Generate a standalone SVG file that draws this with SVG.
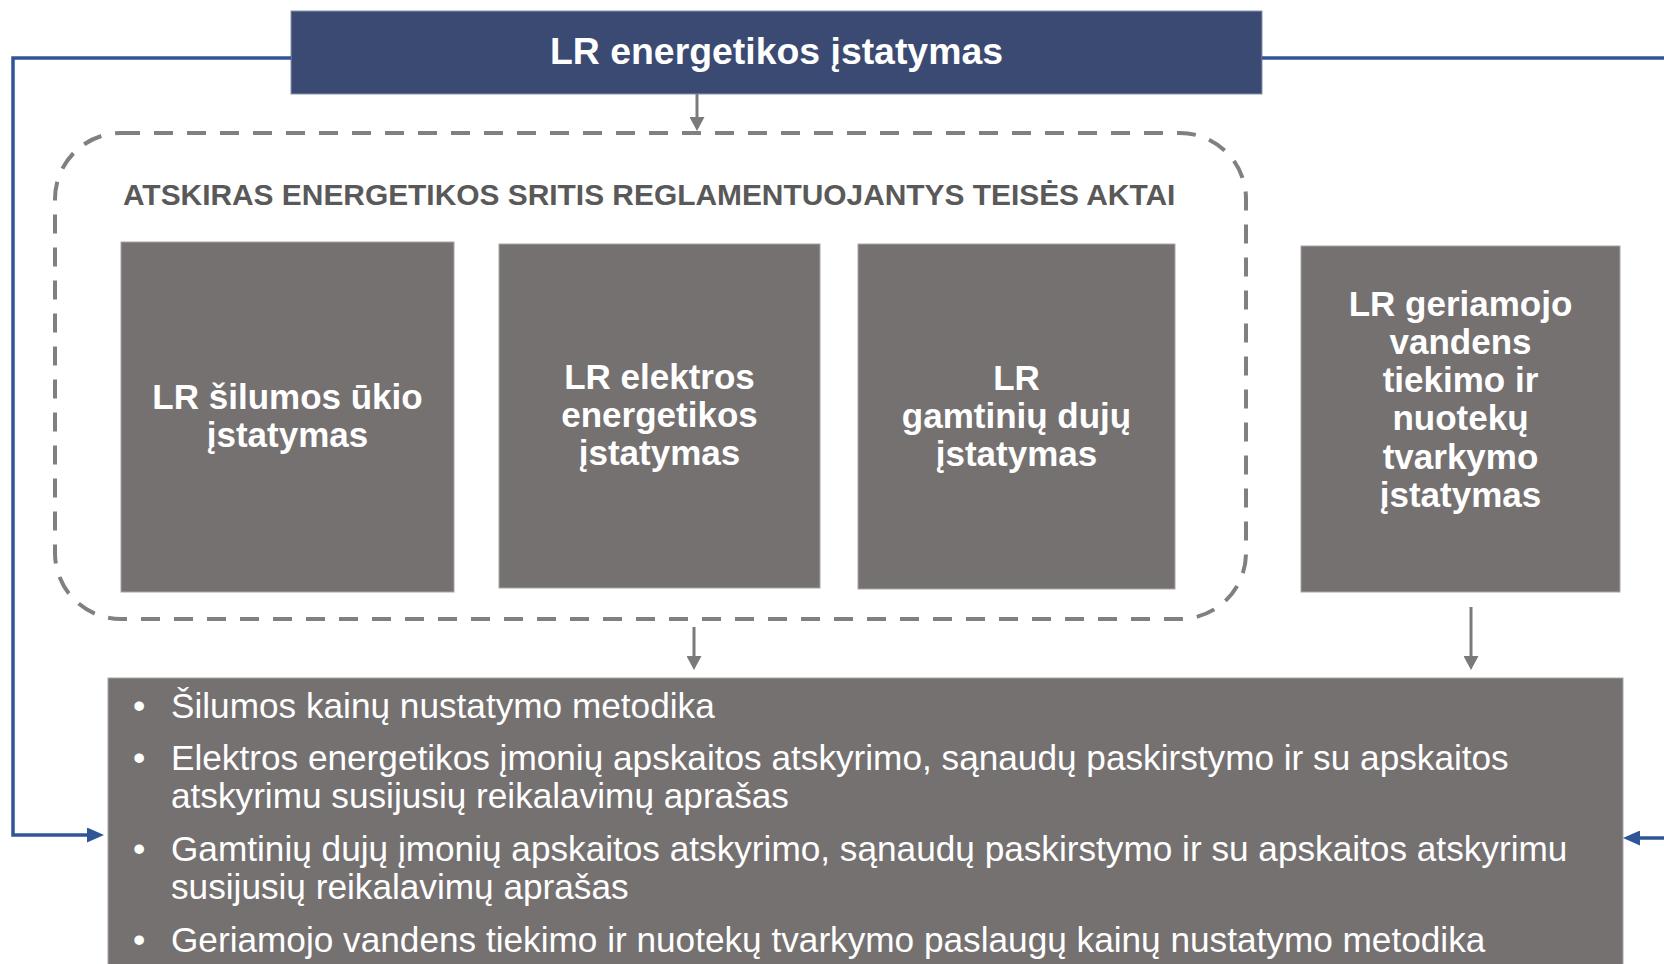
<svg xmlns="http://www.w3.org/2000/svg" width="1664" height="964" viewBox="0 0 1664 964">
<style>
.box{fill:#767171;stroke:#a8a6a6;stroke-width:1}
.bt{font-family:"Liberation Sans",Arial,sans-serif;font-weight:bold;font-size:35px;fill:#ffffff;text-anchor:middle}
.lt{font-family:"Liberation Sans",Arial,sans-serif;font-size:35.2px;fill:#ffffff}
.blue{fill:none;stroke:#2F5597;stroke-width:3.5;stroke-linejoin:miter}
.gray{fill:none;stroke:#7a7a7a;stroke-width:3}
</style>
<defs>
<marker id="ag" viewBox="0 0 14 15" refX="9" refY="7.5" markerWidth="14" markerHeight="15" markerUnits="userSpaceOnUse" orient="auto">
<path d="M0,0 L14,7.5 L0,15 z" fill="#7a7a7a"/>
</marker>
<marker id="ab" viewBox="0 0 17 15" refX="12" refY="7.5" markerWidth="17" markerHeight="15" markerUnits="userSpaceOnUse" orient="auto">
<path d="M0,0 L17,7.5 L0,15 z" fill="#2F5597"/>
</marker>
</defs>
<rect width="1664" height="964" fill="#ffffff"/>

<g id="group-atskiras">
<rect x="55" y="133" width="1191" height="486" rx="66" ry="66" fill="none" stroke="#808080" stroke-width="4" stroke-dasharray="19 14"/>
<text x="123" y="204.5" font-family="Liberation Sans, Arial, sans-serif" font-weight="bold" font-size="29.9" fill="#595959">ATSKIRAS ENERGETIKOS SRITIS REGLAMENTUOJANTYS TEISĖS AKTAI</text>
</g>

<g id="node-energetikos">
<rect x="291" y="11" width="971" height="83" fill="#3B4A72" stroke="#8a93ad" stroke-width="1"/>
<text x="776.5" y="64.3" font-family="Liberation Sans, Arial, sans-serif" font-weight="bold" font-size="37.4" fill="#ffffff" text-anchor="middle">LR energetikos įstatymas</text>
</g>

<g id="node-silumos">
<rect class="box" x="121" y="242" width="333" height="350"/>
<text class="bt"><tspan x="287.5" y="408.5">LR šilumos ūkio</tspan><tspan x="287.5" y="446.5">įstatymas</tspan></text>
</g>

<g id="node-elektros">
<rect class="box" x="499" y="244" width="321" height="344"/>
<text class="bt"><tspan x="659.5" y="389">LR elektros</tspan><tspan x="659.5" y="427">energetikos</tspan><tspan x="659.5" y="465">įstatymas</tspan></text>
</g>

<g id="node-dujos">
<rect class="box" x="858" y="244" width="317" height="345"/>
<text class="bt"><tspan x="1016.5" y="390">LR</tspan><tspan x="1016.5" y="428">gamtinių dujų</tspan><tspan x="1016.5" y="466">įstatymas</tspan></text>
</g>

<g id="node-vanduo">
<rect class="box" x="1301" y="246" width="319" height="346"/>
<text class="bt"><tspan x="1460.5" y="315.7">LR geriamojo</tspan><tspan x="1460.5" y="353.9">vandens</tspan><tspan x="1460.5" y="392.1">tiekimo ir</tspan><tspan x="1460.5" y="430.3">nuotekų</tspan><tspan x="1460.5" y="468.5">tvarkymo</tspan><tspan x="1460.5" y="506.7">įstatymas</tspan></text>
</g>

<g id="node-metodikos">
<rect class="box" x="108" y="678" width="1515" height="300"/>
<text class="lt">
<tspan x="133" y="718">•</tspan><tspan x="171" y="718">Šilumos kainų nustatymo metodika</tspan>
<tspan x="133" y="770">•</tspan><tspan x="171" y="770">Elektros energetikos įmonių apskaitos atskyrimo, sąnaudų paskirstymo ir su apskaitos</tspan>
<tspan x="171" y="808">atskyrimu susijusių reikalavimų aprašas</tspan>
<tspan x="133" y="861">•</tspan><tspan x="171" y="861">Gamtinių dujų įmonių apskaitos atskyrimo, sąnaudų paskirstymo ir su apskaitos atskyrimu</tspan>
<tspan x="171" y="899">susijusių reikalavimų aprašas</tspan>
<tspan x="133" y="952">•</tspan><tspan x="171" y="952">Geriamojo vandens tiekimo ir nuotekų tvarkymo paslaugų kainų nustatymo metodika</tspan>
</text>
</g>

<g id="connectors">
<path class="blue" d="M291,58 H13 V835 H99" marker-end="url(#ab)"/>
<path class="blue" d="M1262,58 H1664"/>
<path class="blue" d="M1664,838 H1628" marker-end="url(#ab)"/>
<path class="gray" d="M697,94 V126" marker-end="url(#ag)"/>
<path class="gray" d="M694,627 V665" marker-end="url(#ag)"/>
<path class="gray" d="M1471,607 V665" marker-end="url(#ag)"/>
</g>
</svg>
